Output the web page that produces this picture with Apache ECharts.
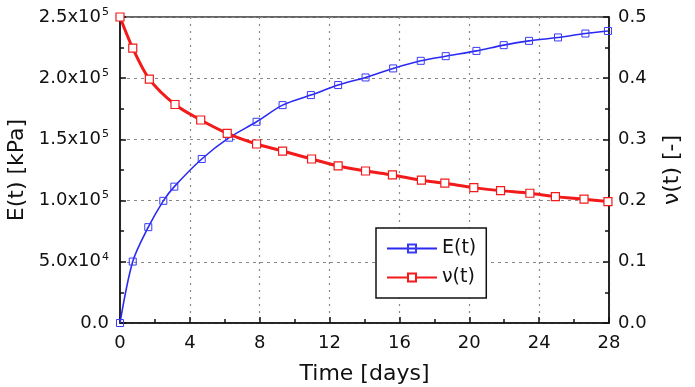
<!DOCTYPE html>
<html>
<head>
<meta charset="utf-8">
<script src="https://cdn.jsdelivr.net/npm/echarts@6/dist/echarts.min.js"></script>
<style>html,body{margin:0;padding:0;background:#fff}#c{width:695px;height:387px}</style>
</head>
<body>
<div id="c"></div>
<script>
// Data
var eTimes  = [0, 0.73, 1.62, 2.48, 3.11, 4.68, 6.25, 7.82, 9.31, 10.93, 12.49, 14.06, 15.64, 17.22, 18.65, 20.41, 21.97, 23.42, 25.08, 26.65, 27.94];
var eValues = [0, 50200, 78300, 99800, 111400, 134000, 151400, 164400, 178000, 186200, 194400, 200600, 208000, 214200, 218000, 222300, 227000, 230500, 233300, 236500, 238600];
var nuTimes  = [0, 0.73, 1.68, 3.15, 4.62, 6.14, 7.82, 9.31, 10.97, 12.49, 14.06, 15.6, 17.26, 18.6, 20.26, 21.79, 23.47, 24.93, 26.57, 27.94];
var nuValues = [0.5, 0.449, 0.3985, 0.357, 0.3317, 0.31, 0.2925, 0.281, 0.268, 0.2566, 0.2484, 0.242, 0.2333, 0.2284, 0.2212, 0.2163, 0.212, 0.2065, 0.2023, 0.1984];
var xTicks = [0, 4, 8, 12, 16, 20, 24, 28];
var seriesNames = ['E(t)', 'ν(t)'];

var ePairs = eTimes.map(function (t, i) { return [t, eValues[i]]; });
var nuPairs = nuTimes.map(function (t, i) { return [t, nuValues[i]]; });

var FONT = 'DejaVu Sans';
var chart = echarts.init(document.getElementById('c'), null, {renderer: 'canvas'});

function sciLabel(v) {
  if (v === 0) return '{m|0.0}';
  var ex = Math.floor(Math.log10(v) + 1e-9);
  var mant = v / Math.pow(10, ex);
  return '{m|' + mant.toFixed(1) + 'x10}{e|' + ex + '}';
}

var axisLineStyle = {color: '#111', width: 1.5};

chart.setOption({
  animation: false,
  backgroundColor: '#fff',
  grid: {left: 120, right: 86, top: 17, bottom: 64, outerBoundsMode: 'none', containLabel: false,
    show: true, borderColor: '#333', borderWidth: 1.5, backgroundColor: 'transparent'},
  legend: {
    orient: 'vertical', left: 376, top: 228,
    padding: [11, 10, 11, 10], itemWidth: 50, itemHeight: 10, itemGap: 10, itemTextGap: 4,
    backgroundColor: '#fff', borderColor: '#111', borderWidth: 1.5,
    textStyle: {fontFamily: FONT, fontSize: 19, color: '#111'},
    data: seriesNames
  },
  xAxis: {
    type: 'value', min: 0, max: 28, interval: 4,
    name: 'Time [days]', nameLocation: 'middle', nameGap: 40,
    nameTextStyle: {fontFamily: FONT, fontSize: 22, color: '#111'},
    axisLine: {show: true, lineStyle: axisLineStyle},
    axisTick: {show: true, inside: true, length: 6, lineStyle: {color: '#111', width: 1.5}},
    minorTick: {show: true, splitNumber: 2, length: 4, lineStyle: {color: '#111', width: 1.5}},
    axisLabel: {fontFamily: FONT, fontSize: 18, color: '#111', margin: 11,
      formatter: function (v) { return xTicks.indexOf(v) >= 0 ? String(v) : ''; }},
    splitLine: {show: true, lineStyle: {color: '#888', type: [2, 5], width: 1.2}}
  },
  yAxis: [{
    type: 'value', min: 0, max: 250000, interval: 50000, position: 'left',
    name: 'E(t) [kPa]', nameLocation: 'middle', nameGap: 90, nameRotate: 90,
    nameTextStyle: {fontFamily: FONT, fontSize: 22, color: '#111'},
    axisLine: {show: true, lineStyle: axisLineStyle},
    axisTick: {show: true, inside: true, length: 6, lineStyle: {color: '#111', width: 1.5}},
    minorTick: {show: true, splitNumber: 2, length: 4, lineStyle: {color: '#111', width: 1.5}},
    axisLabel: {margin: 11, formatter: sciLabel,
      rich: {
        m: {fontFamily: FONT, fontSize: 18, color: '#111'},
        e: {fontFamily: FONT, fontSize: 11, color: '#111', padding: [0, 0, 10, 1]}
      }},
    splitLine: {show: true, lineStyle: {color: '#888', type: [3, 4], width: 1.2}}
  }, {
    type: 'value', min: 0, max: 0.5, interval: 0.1, position: 'right',
    name: 'ν(t) [-]', nameLocation: 'middle', nameGap: 52, nameRotate: 90,
    nameTextStyle: {fontFamily: FONT, fontSize: 22, color: '#111'},
    axisLine: {show: true, lineStyle: axisLineStyle},
    axisTick: {show: true, inside: true, length: 6, lineStyle: {color: '#111', width: 1.5}},
    minorTick: {show: true, splitNumber: 2, length: 4, lineStyle: {color: '#111', width: 1.5}},
    axisLabel: {fontFamily: FONT, fontSize: 18, color: '#111', margin: 9,
      formatter: function (v) { return v.toFixed(1); }},
    splitLine: {show: false}
  }],
  series: [{
    name: seriesNames[0], type: 'line', yAxisIndex: 0, data: ePairs,
    smooth: 0.3, symbol: 'rect', symbolSize: 7, showSymbol: true,
    lineStyle: {color: '#2a2af2', width: 1.6},
    itemStyle: {color: 'rgba(255,255,255,0)', borderColor: '#3a3af5', borderWidth: 1},
    z: 3
  }, {
    name: seriesNames[1], type: 'line', yAxisIndex: 1, data: nuPairs,
    smooth: 0.3, symbol: 'rect', symbolSize: 8, showSymbol: true,
    lineStyle: {color: '#f21a1a', width: 3},
    itemStyle: {color: '#fff', borderColor: '#f21a1a', borderWidth: 1.2},
    z: 4
  }]
});
</script>
</body>
</html>
